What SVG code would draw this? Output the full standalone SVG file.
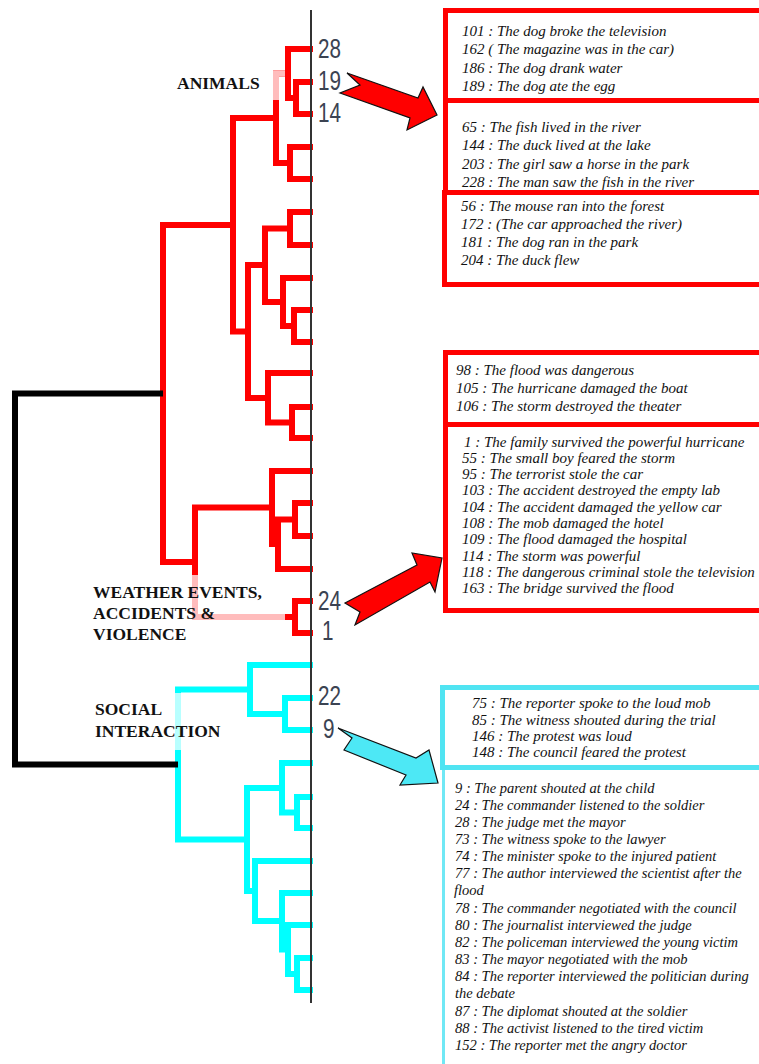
<svg xmlns="http://www.w3.org/2000/svg" width="759" height="1064" viewBox="0 0 759 1064">
<style>
.t{font-family:"Liberation Serif","Times New Roman",serif;font-style:italic;font-size:15px;fill:#111}
.t2{font-size:14.5px}
.cat{font-family:"Liberation Serif","Times New Roman",serif;font-weight:bold;font-size:17.5px;fill:#111}
.num{font-family:"Liberation Sans Narrow","Liberation Sans",sans-serif;font-size:28px;fill:#3b4352}
.r{fill:none;stroke:#ff0000;stroke-width:6;stroke-linejoin:miter}
.p{fill:none;stroke:#ffbcbc;stroke-width:6}
.c{fill:none;stroke:#00ffff;stroke-width:6;stroke-linejoin:miter}
.lc{fill:none;stroke:#b8ffff;stroke-width:6}
.k{fill:none;stroke:#000;stroke-width:6}
.rb{fill:none;stroke:#ff0000;stroke-width:5}
.cb{fill:none;stroke:#50e4f2;stroke-width:5}
.cb2{fill:none;stroke:#70e8f5;stroke-width:3}
.ar{stroke:#111;stroke-width:1.2;stroke-linejoin:miter}
</style>
<rect width="759" height="1064" fill="#fff"/>
<g id="connectors">
<g id="red-tree">
<path class="r" d="M313 82 H296 V114 H313"/>
<path class="r" d="M313 49 H288 V98 H296"/>
<path class="r" d="M313 147 H290 V179 H313"/>
<path class="r" d="M288 73.5 H276 V163 H290"/>
<path class="r" d="M313 212 H290 V245 H313"/>
<path class="r" d="M313 310 H294 V342 H313"/>
<path class="r" d="M313 278 H283 V326 H294"/>
<path class="r" d="M290 228.5 H265 V302 H283"/>
<path class="r" d="M313 407 H292 V438 H313"/>
<path class="r" d="M313 373 H268 V422.5 H292"/>
<path class="r" d="M265 265 H248 V398 H268"/>
<path class="r" d="M276 118 H233 V331.5 H248"/>
<path class="r" d="M313 503 H295 V536 H313"/>
<path class="r" d="M295 519.5 H278 V569 H313"/>
<path class="r" d="M313 471 H272 V544 H278"/>
<path class="r" d="M313 601 H295 V633 H313"/>
<path class="r" d="M272 507.5 H195 V617 H295"/>
<path class="r" d="M233 225 H163 V562 H195"/>
<path class="p" d="M285 73.5 H276 V100"/>
<path class="p" d="M285 617 H195 V575"/>
</g>
<g id="cyan-tree">
<path class="c" d="M313 698 H285 V730 H313"/>
<path class="c" d="M313 665 H250 V714 H285"/>
<path class="c" d="M313 797 H297 V828 H313"/>
<path class="c" d="M313 763 H282 V812.5 H297"/>
<path class="c" d="M313 958 H297 V990 H313"/>
<path class="c" d="M313 925 H288 V974 H297"/>
<path class="c" d="M313 893 H282 V949.5 H288"/>
<path class="c" d="M313 861 H255 V921 H282"/>
<path class="c" d="M282 788 H247 V891 H255"/>
<path class="c" d="M250 689.5 H178 V839.5 H247"/>
<path class="lc" d="M178 693 V750"/>
</g>
<path id="root-link" class="k" d="M163 393.5 H15 V764.5 H178"/>
<line id="axis" x1="311" y1="10" x2="311" y2="1003" stroke="#333" stroke-width="2"/>
<polygon id="arrow-animals" class="ar" fill="#ff0000" points="347,73 418,98 423,87 437,115 407,130 410,118 340,93 360,85"/>
<polygon id="arrow-weather" class="ar" fill="#ff0000" points="345,603 417,565 412,553 442,558 435,592 430,582 355,625 360,612"/>
<polygon id="arrow-social" class="ar" fill="#4de8f5" points="338,728 416,758 429,750 438,783 400,785 406,775 344,750 352,738"/>
</g>
<g id="leaf-labels">
<text class="num" x="318" y="58" textLength="23" lengthAdjust="spacingAndGlyphs">28</text>
<text class="num" x="318" y="90" textLength="23" lengthAdjust="spacingAndGlyphs">19</text>
<text class="num" x="318" y="122" textLength="23" lengthAdjust="spacingAndGlyphs">14</text>
<text class="num" x="318" y="610" textLength="23" lengthAdjust="spacingAndGlyphs">24</text>
<text class="num" x="322" y="640" textLength="11.5" lengthAdjust="spacingAndGlyphs">1</text>
<text class="num" x="318" y="705" textLength="23" lengthAdjust="spacingAndGlyphs">22</text>
<text class="num" x="323" y="738" textLength="11.5" lengthAdjust="spacingAndGlyphs">9</text>
</g>
<g id="category-animals"><text class="cat" x="177" y="89">ANIMALS</text></g>
<g id="category-weather">
<text class="cat" x="93" y="598">WEATHER EVENTS,</text>
<text class="cat" x="93" y="619">ACCIDENTS &amp;</text>
<text class="cat" x="93" y="640">VIOLENCE</text>
</g>
<g id="category-social">
<text class="cat" x="95" y="715">SOCIAL</text>
<text class="cat" x="95" y="737">INTERACTION</text>
</g>
<g id="box-animals-1">
<rect class="rb" x="445.5" y="10.5" width="400" height="90"/>
<text class="t" x="462" y="35.5">101 : The dog broke the television</text>
<text class="t" x="462" y="54">162 ( The magazine was in the car)</text>
<text class="t" x="462" y="72.5">186 : The dog drank water</text>
<text class="t" x="462" y="91">189 : The dog ate the egg</text>
</g>
<g id="box-animals-2">
<rect class="rb" x="445.5" y="100.5" width="400" height="92"/>
<text class="t" x="462" y="131.5">65 : The fish lived in the river</text>
<text class="t" x="462" y="150">144 : The duck lived at the lake</text>
<text class="t" x="462" y="168.5">203 : The girl saw a horse in the park</text>
<text class="t" x="462" y="187">228 : The man saw the fish in the river</text>
</g>
<g id="box-animals-3">
<rect class="rb" x="444.5" y="192.5" width="400" height="92"/>
<text class="t" x="461" y="210.5">56 : The mouse ran into the forest</text>
<text class="t" x="461" y="229">172 : (The car approached the river)</text>
<text class="t" x="461" y="247">181 : The dog ran in the park</text>
<text class="t" x="461" y="265">204 : The duck flew</text>
</g>
<g id="box-weather-1">
<rect class="rb" x="445.5" y="352.5" width="400" height="72"/>
<text class="t" x="456" y="374.5">98 : The flood was dangerous</text>
<text class="t" x="456" y="392.5">105 : The hurricane damaged the boat</text>
<text class="t" x="456" y="410.5">106 : The storm destroyed the theater</text>
</g>
<g id="box-weather-2">
<rect class="rb" x="445.5" y="424.5" width="400" height="186"/>
<text class="t" x="464" y="446.5">1 : The family survived the powerful hurricane</text>
<text class="t" x="462" y="462.8">55 : The small boy feared the storm</text>
<text class="t" x="462" y="479.1">95 : The terrorist stole the car</text>
<text class="t" x="462" y="495.4">103 : The accident destroyed the empty lab</text>
<text class="t" x="462" y="511.7">104 : The accident damaged the yellow car</text>
<text class="t" x="462" y="528">108 : The mob damaged the hotel</text>
<text class="t" x="462" y="544.3">109 : The flood damaged the hospital</text>
<text class="t" x="462" y="560.6">114 : The storm was powerful</text>
<text class="t" x="462" y="576.9">118 : The dangerous criminal stole the television</text>
<text class="t" x="462" y="593.2">163 : The bridge survived the flood</text>
</g>
<g id="box-social-1">
<rect class="cb" x="442.5" y="687.5" width="400" height="80"/>
<text class="t" x="472" y="708">75 : The reporter spoke to the loud mob</text>
<text class="t" x="472" y="724.5">85 : The witness shouted during the trial</text>
<text class="t" x="472" y="741">146 : The protest was loud</text>
<text class="t" x="472" y="757">148 : The council feared the protest</text>
</g>
<g id="box-social-2">
<rect class="cb2" x="443.5" y="768" width="400" height="400"/>
<rect class="cb" x="442.5" y="687.5" width="400" height="80" fill="none"/>
<text class="t t2" x="455" y="792.5">9 : The parent shouted at the child</text>
<text class="t t2" x="455" y="809.7">24 : The commander listened to the soldier</text>
<text class="t t2" x="455" y="826.8">28 : The judge met the mayor</text>
<text class="t t2" x="455" y="844">73 : The witness spoke to the lawyer</text>
<text class="t t2" x="455" y="861.1">74 : The minister spoke to the injured patient</text>
<text class="t t2" x="455" y="878.3">77 : The author interviewed the scientist after the</text>
<text class="t t2" x="454" y="895.4">flood</text>
<text class="t t2" x="455" y="912.6">78 : The commander negotiated with the council</text>
<text class="t t2" x="455" y="929.7">80 : The journalist interviewed the judge</text>
<text class="t t2" x="455" y="946.9">82 : The policeman interviewed the young victim</text>
<text class="t t2" x="455" y="964">83 : The mayor negotiated with the mob</text>
<text class="t t2" x="455" y="981.2">84 : The reporter interviewed the politician during</text>
<text class="t t2" x="455" y="998.3">the debate</text>
<text class="t t2" x="455" y="1015.5">87 : The diplomat shouted at the soldier</text>
<text class="t t2" x="455" y="1032.6">88 : The activist listened to the tired victim</text>
<text class="t t2" x="455" y="1049.8">152 : The reporter met the angry doctor</text>
</g>
</svg>
